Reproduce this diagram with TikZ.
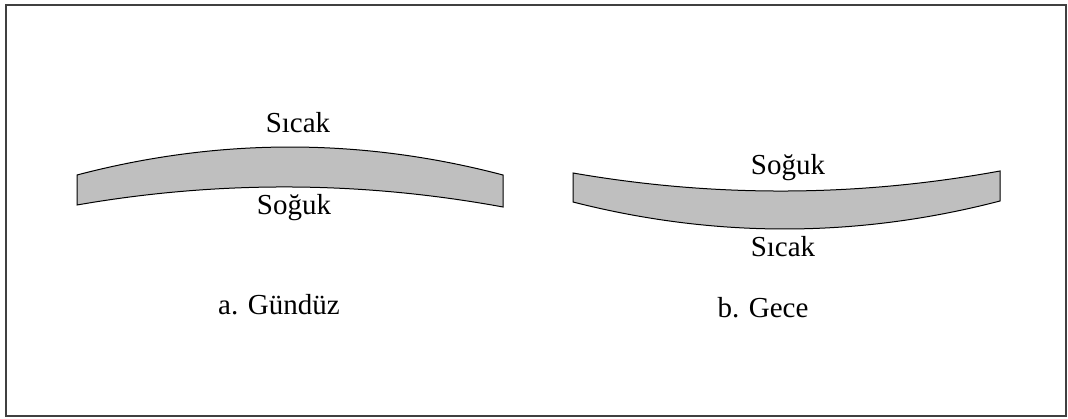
\documentclass[tikz,border=0pt]{standalone}
\usepackage{fontspec}
\setmainfont{Liberation Serif}
\begin{document}
\begin{tikzpicture}[x=1pt,y=-1pt,
  lbl/.style={anchor=base,inner sep=0pt,font=\fontsize{29}{33}\selectfont},
  band/.style={draw=black,line width=1pt,fill=black!25}]
\useasboundingbox (0,0) rectangle (1068,419);
\draw[line width=2pt,draw=black!75] (6,5) rectangle (1066,416);
% left band (day)
\draw[band] (77,175) .. controls (219,137.7) and (361,137.7) .. (503,175)
  -- (503,207) .. controls (361,181) and (219,180.3) .. (77,205) -- cycle;
% right band (night)
\draw[band] (573,173) .. controls (715.3,197.7) and (857.7,197) .. (1000,171)
  -- (1000,201) .. controls (857.7,238) and (715.3,238.3) .. (573,202) -- cycle;
\node[lbl] (s1) at (298,133) {Sıcak};
\node[lbl] (g1) at (294,215) {Soğuk};
\node[lbl] (a) at (279,315) {a. Gündüz};
\node[lbl] (g2) at (788,175) {Soğuk};
\node[lbl] (s2) at (783,257) {Sıcak};
\node[lbl] (b) at (763,318) {b. Gece};
\end{tikzpicture}
\end{document}
